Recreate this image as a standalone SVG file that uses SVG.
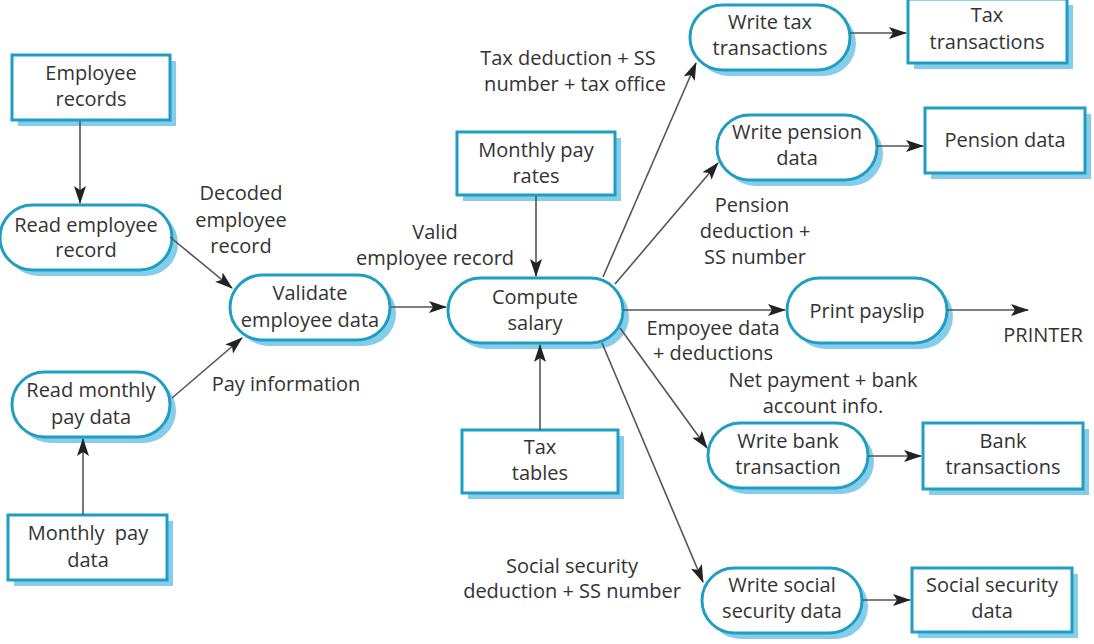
<svg xmlns="http://www.w3.org/2000/svg" width="1094" height="644" viewBox="0 0 1094 644">
<style>
text{font-family:"Open Sans","Noto Sans","Liberation Sans",sans-serif;font-size:20px;fill:#333;text-anchor:middle}
.box{fill:#fff;stroke:#1f9ec4;stroke-width:3}
.sh{fill:#86cde9;stroke:none}
.con line{stroke:#555;stroke-width:1.6;fill:none;marker-end:url(#ah)}
</style>
<defs>
<marker id="ah" markerUnits="userSpaceOnUse" markerWidth="18" markerHeight="12" viewBox="0 0 18 12" refX="17" refY="6" orient="auto">
<path d="M0,0 L18,6 L0,12 L4,6 Z" fill="#222"/>
</marker>
</defs>
<rect width="1094" height="644" fill="#fff"/>

<g id="employee-records">
<rect class="sh" x="18" y="61" width="158" height="65"/>
<rect class="box" x="12" y="55" width="158" height="65"/>
<text x="91" y="80">Employee</text><text x="91" y="106">records</text>
</g>
<g id="read-employee-record">
<rect class="sh" x="6" y="211" width="172" height="65" rx="32.5"/>
<rect class="box" x="0" y="205" width="172" height="65" rx="32.5"/>
<text x="86" y="232">Read employee</text><text x="86" y="257">record</text>
</g>
<g id="validate-employee-data">
<rect class="sh" x="236" y="281" width="160" height="65" rx="32.5"/>
<rect class="box" x="230" y="275" width="160" height="65" rx="32.5"/>
<text x="310" y="300">Validate</text><text x="310" y="327">employee data</text>
</g>
<g id="read-monthly-pay-data">
<rect class="sh" x="18" y="378" width="158" height="65" rx="32.5"/>
<rect class="box" x="12" y="372" width="158" height="65" rx="32.5"/>
<text x="91" y="397">Read monthly</text><text x="91" y="424">pay data</text>
</g>
<g id="monthly-pay-data">
<rect class="sh" x="14" y="521" width="159" height="65"/>
<rect class="box" x="8" y="515" width="159" height="65"/>
<text x="88" y="540" xml:space="preserve">Monthly  pay</text><text x="88" y="567">data</text>
</g>
<g id="compute-salary">
<rect class="sh" x="454" y="284" width="175" height="65" rx="32.5"/>
<rect class="box" x="448" y="278" width="175" height="65" rx="32.5"/>
<text x="535" y="304">Compute</text><text x="535" y="330">salary</text>
</g>
<g id="monthly-pay-rates">
<rect class="sh" x="463" y="138" width="158" height="63"/>
<rect class="box" x="457" y="132" width="158" height="63"/>
<text x="536" y="157">Monthly pay</text><text x="536" y="183">rates</text>
</g>
<g id="tax-tables">
<rect class="sh" x="468" y="436" width="156" height="63"/>
<rect class="box" x="462" y="430" width="156" height="63"/>
<text x="540" y="454">Tax</text><text x="540" y="480">tables</text>
</g>
<g id="write-tax-transactions">
<rect class="sh" x="696" y="11" width="160" height="65" rx="32.5"/>
<rect class="box" x="690" y="5" width="160" height="65" rx="32.5"/>
<text x="770" y="29">Write tax</text><text x="770" y="55">transactions</text>
</g>
<g id="tax-transactions">
<rect class="sh" x="914" y="5" width="159" height="64"/>
<rect class="box" x="908" y="-1" width="159" height="64"/>
<text x="987" y="22">Tax</text><text x="987" y="49">transactions</text>
</g>
<g id="write-pension-data">
<rect class="sh" x="723" y="121" width="160" height="65" rx="32.5"/>
<rect class="box" x="717" y="115" width="160" height="65" rx="32.5"/>
<text x="797" y="139">Write pension</text><text x="797" y="165">data</text>
</g>
<g id="pension-data">
<rect class="sh" x="931" y="114" width="160" height="65"/>
<rect class="box" x="925" y="108" width="160" height="65"/>
<text x="1005" y="147">Pension data</text>
</g>
<g id="print-payslip">
<rect class="sh" x="793" y="284" width="160" height="65" rx="32.5"/>
<rect class="box" x="787" y="278" width="160" height="65" rx="32.5"/>
<text x="867" y="318">Print payslip</text>
</g>
<g id="write-bank-transaction">
<rect class="sh" x="714" y="429" width="160" height="65" rx="32.5"/>
<rect class="box" x="708" y="423" width="160" height="65" rx="32.5"/>
<text x="788" y="448">Write bank</text><text x="788" y="474">transaction</text>
</g>
<g id="bank-transactions">
<rect class="sh" x="929" y="429" width="160" height="66"/>
<rect class="box" x="923" y="423" width="160" height="66"/>
<text x="1003" y="448">Bank</text><text x="1003" y="474">transactions</text>
</g>
<g id="write-social-security-data">
<rect class="sh" x="708" y="574" width="160" height="65" rx="32.5"/>
<rect class="box" x="702" y="568" width="160" height="65" rx="32.5"/>
<text x="782" y="592">Write social</text><text x="782" y="618">security data</text>
</g>
<g id="social-security-data">
<rect class="sh" x="918" y="574" width="160" height="64"/>
<rect class="box" x="912" y="568" width="160" height="64"/>
<text x="992" y="592">Social security</text><text x="992" y="618">data</text>
</g>

<g id="connectors" class="con">
<line x1="80" y1="121" x2="80" y2="203"/>
<line x1="170" y1="237" x2="232" y2="288"/>
<line x1="83" y1="515" x2="83" y2="439"/>
<line x1="172" y1="398" x2="242" y2="338"/>
<line x1="391" y1="307" x2="446" y2="307"/>
<line x1="536" y1="196" x2="536" y2="276"/>
<line x1="540" y1="430" x2="540" y2="345"/>
<line x1="603" y1="277" x2="696" y2="63"/>
<line x1="615" y1="284" x2="718" y2="163"/>
<line x1="623" y1="310" x2="785" y2="310"/>
<line x1="947" y1="310" x2="1028" y2="310"/>
<line x1="620" y1="328" x2="707" y2="448"/>
<line x1="602" y1="343" x2="703" y2="582"/>
<line x1="850" y1="33" x2="906" y2="33"/>
<line x1="877" y1="146" x2="923" y2="146"/>
<line x1="868" y1="456" x2="921" y2="456"/>
<line x1="862" y1="600" x2="910" y2="600"/>
</g>

<g id="labels">
<text x="241" y="200">Decoded</text><text x="241" y="227">employee</text><text x="241" y="253">record</text>
<text x="435" y="239">Valid</text><text x="435" y="265">employee record</text>
<text x="286" y="391">Pay information</text>
<text x="568" y="65">Tax deduction + SS</text><text x="575" y="91">number + tax office</text>
<text x="752" y="212">Pension</text><text x="755" y="238">deduction +</text><text x="755" y="264">SS number</text>
<text x="713" y="335">Empoyee data</text><text x="713" y="360">+ deductions</text>
<text x="823" y="387">Net payment + bank</text><text x="823" y="413">account info.</text>
<text x="1043" y="342">PRINTER</text>
<text x="572" y="573">Social security</text><text x="572" y="598">deduction + SS number</text>
</g>
</svg>
